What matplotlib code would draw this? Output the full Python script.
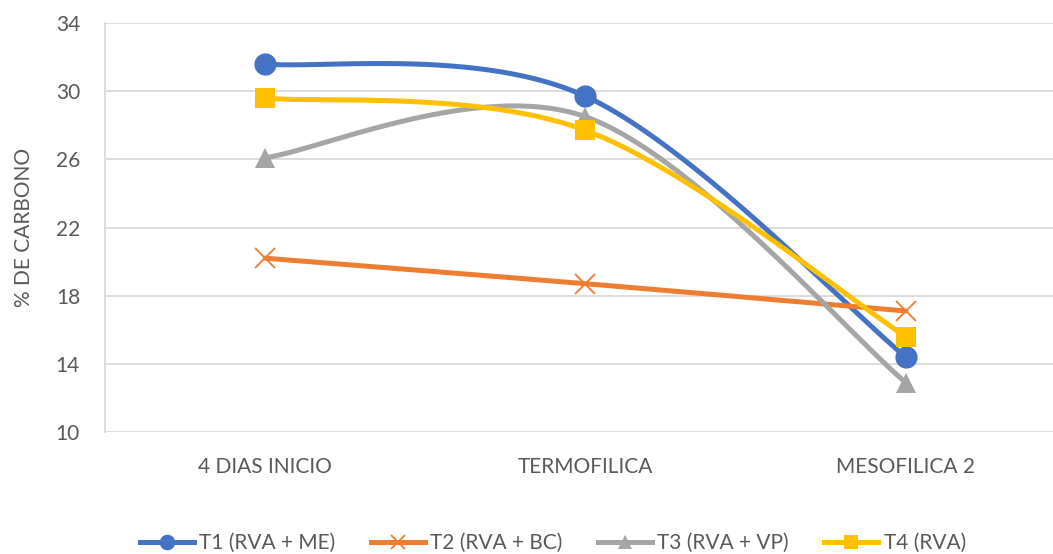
import numpy as np
import matplotlib.pyplot as plt
from matplotlib.lines import Line2D

plt.rcParams['font.family'] = ['Lato', 'DejaVu Sans']

etapas = ['4 DIAS INICIO', 'TERMOFILICA', 'MESOFILICA 2']
t1 = [31.6, 29.7, 14.4]
t2 = [20.2, 18.7, 17.1]
t3 = [26.1, 28.5, 12.9]
t4 = [29.6, 27.7, 15.6]

series = [
    ('T1 (RVA + ME)', t1, '#4472C4', 'o', 16),
    ('T2 (RVA + BC)', t2, '#ED7D31', 'x', 15),
    ('T3 (RVA + VP)', t3, '#A5A5A5', '^', 15),
    ('T4 (RVA)', t4, '#FFC000', 's', 15),
]


def suavizar(x, y, n=60):
    # curva bezier tipo Excel (catmull-rom) entre os pontos
    x = np.asarray(x, float)
    y = np.asarray(y, float)
    px = np.concatenate([[x[0]], x, [x[-1]]])
    py = np.concatenate([[y[0]], y, [y[-1]]])
    xs, ys = [], []
    t = np.linspace(0, 1, n)
    for i in range(len(x) - 1):
        p0 = np.array([px[i + 1], py[i + 1]])
        p3 = np.array([px[i + 2], py[i + 2]])
        c1 = p0 + (np.array([px[i + 2], py[i + 2]]) - np.array([px[i], py[i]])) / 6
        c2 = p3 - (np.array([px[i + 3], py[i + 3]]) - np.array([px[i + 1], py[i + 1]])) / 6
        b = ((1 - t) ** 3)[:, None] * p0 + (3 * (1 - t) ** 2 * t)[:, None] * c1 \
            + (3 * (1 - t) * t ** 2)[:, None] * c2 + (t ** 3)[:, None] * p3
        xs.append(b[:, 0])
        ys.append(b[:, 1])
    return np.concatenate(xs), np.concatenate(ys)


fig = plt.figure(figsize=(10.53, 5.54), dpi=100)
ax = fig.add_axes([105 / 1053, 1 - 432 / 554, 1 - 105 / 1053, (432 - 23) / 554])

x = np.arange(len(etapas))
handles = []
for nome, vals, cor, mk, ms in series:
    sx, sy = suavizar(x, vals)
    ax.plot(sx, sy, color=cor, lw=3.6, solid_capstyle='round', zorder=3)
    mew = 1.3 if mk == 'x' else 0
    ax.plot(x, vals, linestyle='none', marker=mk, markersize=ms, color=cor,
            markeredgewidth=mew, markeredgecolor=cor, zorder=4)
    handles.append(Line2D([0], [0], color=cor, lw=3.6, marker=mk,
                          markersize=ms * 0.7, markeredgewidth=mew,
                          markeredgecolor=cor, label=nome))

ax.set_ylim(10, 34)
ax.set_yticks(range(10, 35, 4))
ax.set_xlim(-0.5, 2.5 - 13 / 320.5)
ax.set_xticks(x)
ax.set_xticklabels(etapas)
ax.grid(axis='y', color='#D9D9D9', lw=1.3)
ax.set_axisbelow(True)
for lado in ['top', 'right', 'bottom']:
    ax.spines[lado].set_visible(False)
ax.spines['left'].set_color('#D9D9D9')
ax.spines['left'].set_linewidth(1.3)
ax.tick_params(axis='both', length=0, labelsize=15, colors='#595959')
ax.tick_params(axis='y', pad=18)
ax.tick_params(axis='x', pad=18)
ax.set_ylabel('% DE CARBONO', fontsize=15, color='#595959', labelpad=16)

fig.legend(handles=handles, loc='lower center', bbox_to_anchor=(0.525, -0.032),
           ncol=4, frameon=False, fontsize=15, handlelength=2.6,
           columnspacing=1.7, handletextpad=0.25, labelcolor='#595959')

fig.savefig('out.png', dpi=100)
